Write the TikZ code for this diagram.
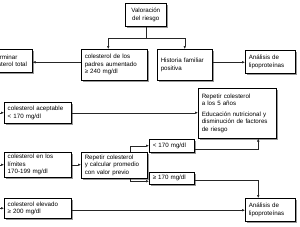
\documentclass[tikz,border=0pt]{standalone}
\usepackage{fontspec}
\setmainfont{Liberation Sans}
\usetikzlibrary{arrows.meta,positioning,shadows}

\begin{document}
\begin{tikzpicture}[x=1pt,y=-1pt,
  box/.style={draw=black,fill=white,line width=0.5pt,anchor=north west,
              inner xsep=3.5pt,inner ysep=1pt,align=left,
              font=\fontsize{6.2}{7.6}\selectfont,
              drop shadow={shadow xshift=1.6pt,shadow yshift=-1.6pt,
                           fill=black!40,opacity=1}},
  arr/.style={-{Latex[length=3pt,width=2.6pt]},line width=0.5pt,black!85},
  ln/.style={line width=0.5pt,black!85}
]
\useasboundingbox (0,0) rectangle (300,226);
\clip (0,0) rectangle (300,226);

% top row
\node[box,align=center,text width=34pt,minimum height=23pt] (val) at (125,3) {Valoración\\del\ riesgo};
\node[box,text width=59pt,minimum height=31pt] (pad) at (81,49) {colesterol de los\\padres aumentado\\≥ 240 mg/dl};
\node[box,text width=42pt,minimum height=23pt] (det) at (-17,49) {Determinar\\colesterol total};
\node[box,text width=48pt,minimum height=31pt] (his) at (157,49) {Historia familiar\\positiva};
\node[box,text width=43pt,minimum height=23pt] (an1) at (245,50) {Análisis de\\lipoproteínas};

\coordinate (rowtop) at (0,38);
\coordinate (lft) at (-8,0);
\draw[arr] (val.south) -- (val.south |- rowtop) -| ([xshift=-6pt]pad.north);
\draw[arr] (val.south |- rowtop) -| (his.north);
\coordinate (padout) at ([yshift=2.5pt]pad.west);
\draw[arr] (padout) -- (padout -| det.east);
\coordinate (hisout) at ([yshift=2.5pt]his.east);
\draw[arr] (hisout) -- (hisout -| an1.west);

% levels of cholesterol
\node[box,text width=60pt,minimum height=21pt] (acc) at (4,102) {colesterol aceptable\\< 170 mg/dl};
\node[box,text width=71pt,minimum height=50pt] (rep) at (198,88) {Repetir colesterol\\a los 5 años\\[3pt]Educación nutricional y\\disminución de factores\\de riesgo};
\node[box,text width=60pt,minimum height=25pt] (lim) at (4,152) {colesterol en los\\límites\\170-199 mg/dl};
\node[box,text width=59pt,minimum height=26pt] (rc) at (81,152) {Repetir colesterol\\y calcular promedio\\con valor previo};
\node[box,text width=38pt,minimum height=13pt] (lt) at (149,139) {< 170 mg/dl};
\node[box,text width=38pt,minimum height=12pt] (ge) at (149,172) {≥ 170 mg/dl};
\node[box,text width=60pt,minimum height=20pt] (el) at (4,198) {colesterol elevado\\≥ 200 mg/dl};
\node[box,text width=43pt,minimum height=23pt] (an2) at (245,198) {Análisis de\\lipoproteínas};

\draw[arr] (acc.west -| lft) -- (acc.west);
\draw[arr] (lim.west -| lft) -- (lim.west);
\draw[arr] (el.west -| lft) -- (el.west);

\draw[arr] (acc.east) -- (acc.east -| rep.west);
\draw[arr] (lim.east) -- (lim.east -| rc.west);
\draw[arr] ([xshift=-17pt]rc.north east) |- (lt.west);
\draw[arr] ([xshift=-17pt]rc.south east) |- ([yshift=-3pt]ge.west);
\draw[arr] ([yshift=-3pt]lt.east) -| ([xshift=21pt]rep.south);
\draw[arr] ([yshift=-2pt]ge.east) -| ([xshift=-12pt]an2.north);
\coordinate (elout) at ([yshift=-2pt]el.east);
\draw[arr] (elout) -- (elout -| an2.west);

\end{tikzpicture}
\end{document}
